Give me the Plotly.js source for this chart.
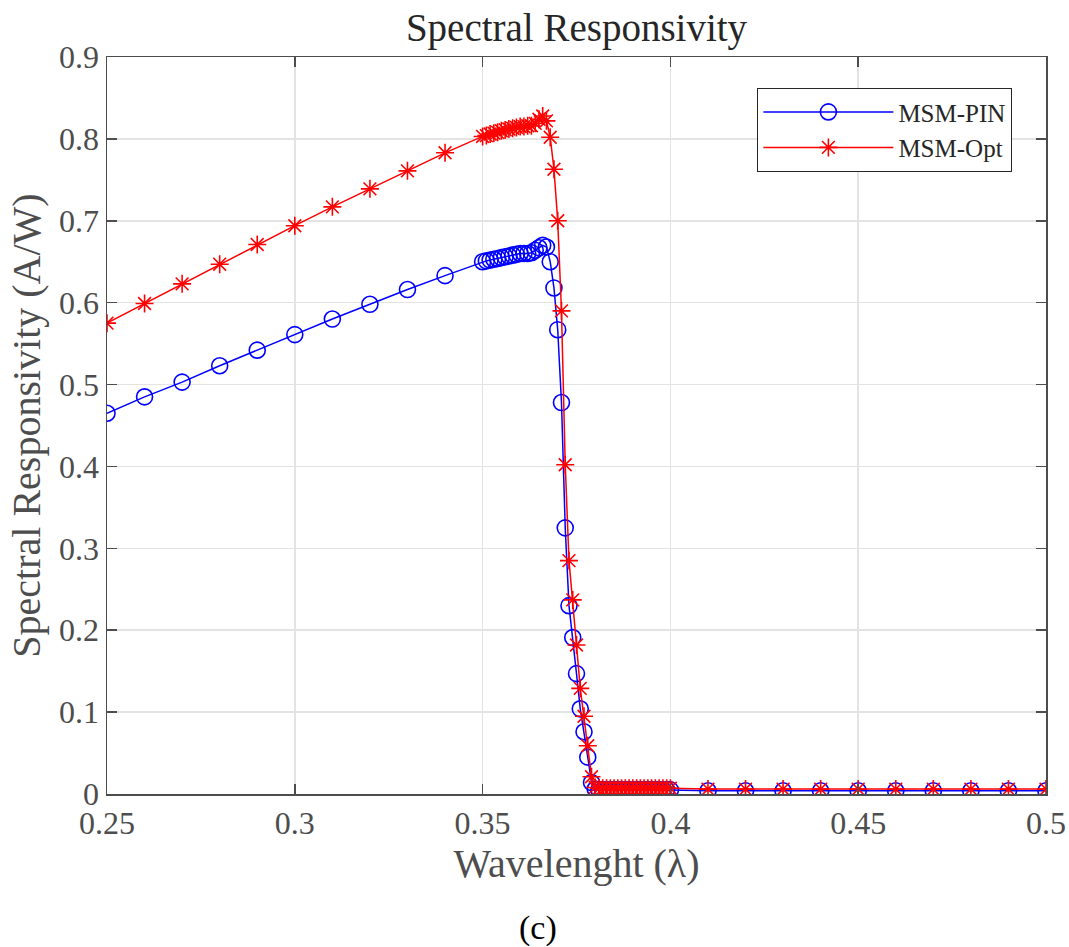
<!DOCTYPE html>
<html>
<head>
<meta charset="utf-8">
<script src="https://cdn.plot.ly/plotly-3.0.1.min.js"></script>
<style>html,body{margin:0;padding:0;background:#fff}#chart{width:1069px;height:947px}</style>
</head>
<body>
<div id="chart"></div>
<script>
const wavelength = [
  0.25,0.26,0.27,0.28,0.29,0.30,0.31,0.32,0.33,0.34,
  0.350,0.351,0.352,0.353,0.354,0.355,0.356,0.357,0.358,0.359,
  0.360,0.361,0.362,0.363,0.364,0.365,0.366,0.367,0.368,0.369,
  0.370,0.371,0.372,0.373,0.374,0.375,0.376,0.377,0.378,0.379,
  0.380,0.381,0.382,0.383,0.384,0.385,0.386,0.387,0.388,0.389,
  0.390,0.391,0.392,0.393,0.394,0.395,0.396,0.397,0.398,0.399,
  0.400,
  0.41,0.42,0.43,0.44,0.45,0.46,0.47,0.48,0.49,0.50
];
const msmPin = [
  0.465,0.485,0.503,0.523,0.542,0.561,0.580,0.598,0.616,0.633,
  0.650,0.651,0.652,0.653,0.654,0.655,0.656,0.657,0.658,0.659,
  0.660,0.660,0.660,0.661,0.664,0.667,0.670,0.668,0.650,0.618,
  0.567,0.478,0.325,0.230,0.191,0.147,0.104,0.076,0.045,0.014,
  0.006,0.005,0.005,0.005,0.005,0.005,0.005,0.005,0.005,0.005,
  0.005,0.005,0.005,0.005,0.005,0.005,0.005,0.005,0.005,0.005,
  0.005,
  0.004,0.004,0.004,0.004,0.004,0.004,0.004,0.004,0.004,0.004
];
const msmOpt = [
  0.575,0.599,0.623,0.647,0.671,0.694,0.717,0.739,0.761,0.783,
  0.803,0.804,0.806,0.807,0.808,0.810,0.811,0.812,0.813,0.814,
  0.815,0.815,0.816,0.816,0.819,0.824,0.828,0.822,0.802,0.763,
  0.700,0.590,0.402,0.285,0.237,0.182,0.129,0.095,0.059,0.021,
  0.008,0.007,0.007,0.007,0.007,0.007,0.007,0.007,0.007,0.007,
  0.007,0.007,0.007,0.007,0.007,0.007,0.007,0.007,0.007,0.007,
  0.007,
  0.006,0.006,0.006,0.006,0.006,0.006,0.006,0.006,0.006,0.006
];
const seriesNames = ['MSM-PIN', 'MSM-Opt'];
const xTicks = [0.25, 0.3, 0.35, 0.4, 0.45, 0.5];
const yTicks = [0, 0.1, 0.2, 0.3, 0.4, 0.5, 0.6, 0.7, 0.8, 0.9];

const serif = '"Liberation Serif", "DejaVu Serif", "Times New Roman", serif';
const gray = '#4d4d4d';

const traces = [
  {
    x: wavelength, y: msmPin, name: seriesNames[0], type: 'scatter', mode: 'lines+markers',
    line: {color: '#0000ff', width: 1.5},
    marker: {symbol: 'circle-open', size: 16, color: '#0000ff', line: {width: 1.6, color: '#0000ff'}}
  },
  {
    x: wavelength, y: msmOpt, name: seriesNames[1], type: 'scatter', mode: 'lines+markers',
    line: {color: '#ff0000', width: 1.5},
    marker: {symbol: 'asterisk-open', size: 15, color: '#ff0000', line: {width: 1.6, color: '#ff0000'}}
  }
];

function axisBase() {
  return {
    showline: true, linecolor: gray, linewidth: 1.5, mirror: 'ticks',
    ticks: 'inside', ticklen: 10, tickwidth: 1.5, tickcolor: gray,
    showgrid: true, gridcolor: '#e3e3e3', gridwidth: 1.5,
    zeroline: false,
    tickfont: {family: serif, size: 32, color: gray}
  };
}

const layout = {
  width: 1069, height: 947,
  margin: {l: 107, r: 23, t: 57, b: 153},
  paper_bgcolor: '#ffffff', plot_bgcolor: '#ffffff',
  font: {family: serif},
  title: {text: 'Spectral Responsivity', font: {family: serif, size: 39, color: '#262626'}, x: 0.5, xref: 'paper', y: 0.971, yanchor: 'middle'},
  xaxis: Object.assign(axisBase(), {
    range: [0.25, 0.5], tickvals: xTicks, ticktext: xTicks.map(String),
    title: {text: 'Wavelenght (λ)', font: {family: serif, size: 40, color: gray}, standoff: 4}
  }),
  yaxis: Object.assign(axisBase(), {
    range: [0, 0.9], tickvals: yTicks, ticktext: yTicks.map(String),
    title: {text: 'Spectral Responsivity (A/W)', font: {family: serif, size: 40, color: gray}, standoff: 6}
  }),
  showlegend: true,
  legend: {
    x: 0.964, xanchor: 'right', y: 0.958, yanchor: 'top',
    bgcolor: '#ffffff', bordercolor: '#262626', borderwidth: 1.2,
    font: {family: serif, size: 25, color: '#262626'},
    itemwidth: 130, tracegroupgap: 0
  },
  annotations: [{
    text: '(c)', xref: 'paper', yref: 'paper', x: 0.459, y: -0.182,
    xanchor: 'center', yanchor: 'middle', showarrow: false,
    font: {family: serif, size: 34, color: '#000000'}
  }]
};

Plotly.newPlot('chart', traces, layout, {displayModeBar: false, staticPlot: true});
</script>
</body>
</html>
